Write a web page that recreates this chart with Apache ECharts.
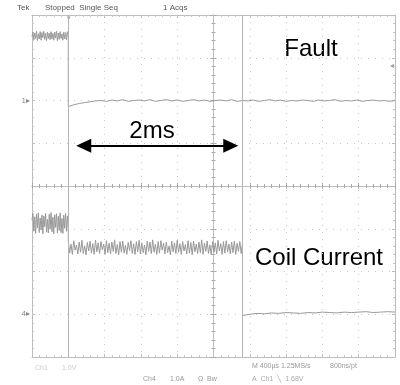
<!DOCTYPE html>
<html>
<head>
<meta charset="utf-8">
<script src="https://cdn.jsdelivr.net/npm/echarts@6/dist/echarts.min.js"></script>
<style>
html, body { margin: 0; padding: 0; background: #fff; }
#chart { width: 400px; height: 385px; }
</style>
</head>
<body>
<div id="chart"></div>
<script>
// horizontal: time in ms (400us per division), vertical: screen divisions
const timeRange = [-2, 2]
const timePerDiv = 0.4
const divRange = [-4, 4]
const triggerTime = -1.6
const cursorTime = 0.32

// Ch1 - fault signal
const faultPreStep = 0.01
const faultPre = [3.50, 3.60, 3.42, 3.58, 3.45, 3.62, 3.40, 3.56, 3.44, 3.61, 3.41, 3.59, 3.47, 3.62, 3.43, 3.57, 3.40, 3.60, 3.45, 3.58,
    3.42, 3.61, 3.44, 3.57, 3.41, 3.60, 3.46, 3.62, 3.40, 3.58, 3.43, 3.61, 3.45, 3.56, 3.41, 3.60, 3.44, 3.59, 3.42, 3.61, 3.48]
const faultPostStep = 0.06
const faultPost = [1.86, 1.90, 1.93, 1.95, 1.97, 1.99, 2.00, 1.98, 2.01, 1.99, 2.02, 1.98, 2.00, 2.01, 1.99, 2.02, 1.98, 2.00, 2.02, 1.99,
    2.01, 1.98, 2.00, 2.02, 1.99, 2.01, 1.98, 2.00, 2.01, 1.99, 2.02, 1.98, 2.00, 1.99, 2.01, 1.98, 2.00, 2.02, 1.99, 2.01,
    1.98, 2.00, 1.99, 2.01, 2.00, 1.98, 2.01, 1.99, 2.00, 2.02, 1.98, 2.00, 1.99, 2.01, 1.98, 2.00, 2.01, 1.99, 2.00, 1.98, 2.00]

// Ch4 - coil current
const coilPreStep = 0.01
const coilPre = [-0.80, -0.64, -1.06, -0.72, -1.11, -0.66, -0.98, -0.63, -1.09, -0.75, -1.03, -0.68, -1.12, -0.70, -0.95, -0.64, -1.08, -0.78, -1.10, -0.66,
    -1.01, -0.62, -1.07, -0.73, -1.12, -0.67, -0.97, -0.65, -1.10, -0.71, -1.04, -0.63, -1.09, -0.76, -1.11, -0.68, -0.99, -0.64, -1.06, -0.70, -1.02]
const coilMidStep = 0.015
const coilMid = [-1.30, -1.57, -1.36, -1.60, -1.28, -1.50, -1.38, -1.59, -1.31, -1.55, -1.27, -1.58, -1.40, -1.61, -1.32, -1.52,
    -1.29, -1.57, -1.35, -1.60, -1.27, -1.54, -1.33, -1.58, -1.30, -1.49, -1.36, -1.60, -1.28, -1.56, -1.34, -1.59,
    -1.31, -1.53, -1.26, -1.58, -1.37, -1.61, -1.30, -1.55, -1.29, -1.57, -1.39, -1.60, -1.32, -1.51, -1.28, -1.58,
    -1.35, -1.60, -1.30, -1.54, -1.27, -1.59, -1.33, -1.56, -1.38, -1.61, -1.29, -1.53, -1.31, -1.58, -1.26, -1.55,
    -1.36, -1.60, -1.30, -1.57, -1.28, -1.50, -1.34, -1.59, -1.31, -1.56, -1.40, -1.61, -1.29, -1.54, -1.33, -1.58,
    -1.27, -1.55, -1.35, -1.60, -1.30, -1.52, -1.37, -1.59, -1.28, -1.57, -1.32, -1.61, -1.29, -1.54, -1.36, -1.58,
    -1.31, -1.56, -1.26, -1.60, -1.34, -1.53, -1.29, -1.58, -1.38, -1.61, -1.30, -1.55, -1.33, -1.59, -1.27, -1.52,
    -1.35, -1.60, -1.30, -1.57, -1.28, -1.54, -1.36, -1.59, -1.31, -1.56, -1.29, -1.60, -1.34, -1.53, -1.30, -1.58,
    -1.33]
const coilPostStep = 0.08
const coilPost = [-3.03, -3.00, -2.98, -2.99, -2.97, -2.98, -2.96, -2.97, -2.98, -2.96, -2.97,
    -2.95, -2.96, -2.97, -2.95, -2.96, -2.95, -2.94, -2.96, -2.95, -2.94, -2.95]

// 2ms arrow (symbol centers) and channel ground markers
const arrowSpan = [-1.43, 0.19]
const arrowLevel = 0.94
const groundLevels = [2, -3]
const groundNames = ['1', '4']

const FONT = 'Liberation Sans, Arial, sans-serif'

function trace(start, step, values) {
    return values.map((v, i) => [start + i * step, v])
}

const faultData = trace(timeRange[0], faultPreStep, faultPre)
    .concat(trace(triggerTime, faultPostStep, faultPost))
const coilData = trace(timeRange[0], coilPreStep, coilPre)
    .concat(trace(triggerTime, coilMidStep, coilMid))
    .concat(trace(cursorTime, coilPostStep, coilPost))

function scopeAxis({min, max, interval, position, onZero, inside, split, label, tickColor}) {
    return {
        type: 'value',
        min: min,
        max: max,
        interval: interval,
        position: position,
        axisLine: {
            show: true,
            onZero: onZero,
            lineStyle: {color: '#bdbdbd', width: 1}
        },
        axisTick: {
            show: true,
            inside: inside,
            length: 3,
            lineStyle: {color: tickColor || '#bdbdbd'}
        },
        minorTick: {
            show: true,
            splitNumber: 5,
            length: 2,
            lineStyle: {color: tickColor || '#c8c8c8'}
        },
        axisLabel: label || {show: false},
        splitLine: {
            show: !!split,
            lineStyle: {color: '#c8c8c8', type: [1, 6], width: 1}
        }
    }
}

function groundLabel() {
    return {
        show: true,
        margin: 2,
        fontSize: 8,
        color: '#888',
        fontFamily: FONT,
        formatter: function (v) {
            const i = groundLevels.indexOf(v)
            return i >= 0 ? groundNames[i] + '\u25B8' : ''
        }
    }
}

function text(x, y, str, size, color, align) {
    return {
        type: 'text',
        x: x,
        y: y,
        silent: true,
        style: {
            text: str,
            fontSize: size,
            fontFamily: FONT,
            fill: color,
            align: align || 'left',
            verticalAlign: 'middle'
        }
    }
}

const myChart = echarts.init(document.getElementById('chart'))
const xRange = {min: timeRange[0], max: timeRange[1], interval: timePerDiv}
const yRange = {min: divRange[0], max: divRange[1], interval: 1}

myChart.setOption({
    animation: false,
    backgroundColor: '#fff',
    grid: {left: 32, right: 5, top: 15, bottom: 28},
    xAxis: [
        scopeAxis({...xRange, position: 'bottom', onZero: false, inside: true, split: true}),
        scopeAxis({...xRange, position: 'top', onZero: false, inside: true}),
        scopeAxis({...xRange, position: 'bottom', onZero: true, inside: true, tickColor: '#a8a8a8'}),
        scopeAxis({...xRange, position: 'top', onZero: true, inside: true, tickColor: '#a8a8a8'})
    ],
    yAxis: [
        scopeAxis({...yRange, position: 'left', onZero: false, inside: true, split: true, label: groundLabel()}),
        scopeAxis({...yRange, position: 'right', onZero: false, inside: true}),
        scopeAxis({...yRange, position: 'left', onZero: true, inside: true, tickColor: '#a8a8a8'}),
        scopeAxis({...yRange, position: 'right', onZero: true, inside: true, tickColor: '#a8a8a8'})
    ],
    series: [
        {
            name: 'Fault',
            type: 'line',
            data: faultData,
            showSymbol: false,
            lineStyle: {color: '#9a9a9a', width: 1},
            markLine: {
                silent: true,
                symbol: ['none', 'none'],
                label: {show: false},
                lineStyle: {color: '#b4b4b4', type: 'solid', width: 1},
                data: [{xAxis: triggerTime}, {xAxis: cursorTime}]
            }
        },
        {
            name: 'Coil Current',
            type: 'line',
            data: coilData,
            showSymbol: false,
            lineStyle: {color: '#999', width: 1},
            markLine: {
                silent: true,
                symbol: ['triangle', 'triangle'],
                symbolSize: [14, 15],
                label: {show: false},
                lineStyle: {color: '#000', type: 'solid', width: 2},
                itemStyle: {color: '#000'},
                data: [[
                    {coord: [arrowSpan[0], arrowLevel]},
                    {coord: [arrowSpan[1], arrowLevel]}
                ]]
            }
        }
    ],
    graphic: [
        text(311, 49, 'Fault', 24, '#000', 'center'),
        text(152, 131, '2ms', 24, '#000', 'center'),
        text(319, 258, 'Coil Current', 24, '#000', 'center'),
        text(17, 8, 'Tek', 8, '#555'),
        text(45, 8, 'Stopped  Single Seq', 8, '#555'),
        text(163, 8, '1 Acqs', 8, '#555'),
        text(394, 66, '\u25C2', 8, '#999', 'right'),
        text(69, 18, '\u25BE', 7, '#999', 'center'),
        text(35, 368, 'Ch1', 7, '#ccc'),
        text(62, 368, '1.0V', 7, '#ccc'),
        text(143, 379, 'Ch4', 7, '#999'),
        text(170, 379, '1.0A', 7, '#999'),
        text(198, 379, '\u03A9  Bw', 7, '#999'),
        text(252, 366, 'M 400\u00B5s 1.25MS/s', 7, '#999'),
        text(330, 366, '800ns/pt', 7, '#999'),
        text(252, 379, 'A  Ch1  \u2572  1.68V', 7, '#aaa')
    ]
})
</script>
</body>
</html>
